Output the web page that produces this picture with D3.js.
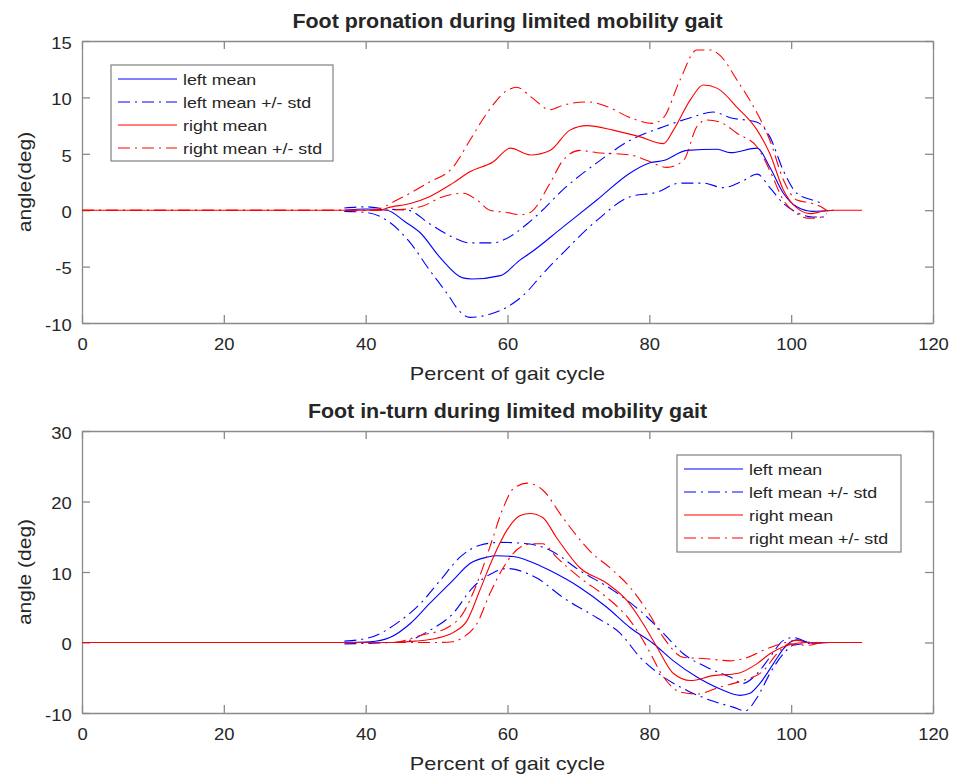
<!DOCTYPE html>
<html>
<head>
<meta charset="utf-8">
<script src="https://cdn.jsdelivr.net/npm/d3@7"></script>
<style>
    body { margin: 0; background: #fff; }
    svg { display: block; font-family: "Liberation Sans", Arial, Helvetica, sans-serif; }
</style>
</head>
<body>
<div class="visholder"></div>
<script>
// x ticks shared by both panels
const xTicks = [0, 20, 40, 60, 80, 100, 120];
const topYTicks = [-10, -5, 0, 5, 10, 15];
const botYTicks = [-10, 0, 10, 20, 30];
const legendLabels = ["left mean", "left mean +/- std", "right mean", "right mean +/- std"];

// top panel: foot pronation, [percent of gait cycle, angle]
const proLeftMean = [[37,0],[40,0.1],[43,0],[45.5,-1],[47.7,-2.0],[50.5,-4.2],[53.7,-6.0],[55,-6.1],[59,-5.8],[61.8,-4.4],[63.2,-3.8],[67.8,-1.5],[72.6,0.9],[77.3,3.3],[80.1,4.2],[82,4.4],[85.3,5.3],[89.6,5.4],[91.4,5.1],[95.2,5.5],[97,3.8],[98.9,1.5],[100.8,0.3],[103,-0.1],[106,0]];
const proLeftUpper = [[37,0.2],[40,0.3],[43,0.1],[46,0],[49,-1.2],[52.3,-2.4],[54.7,-2.9],[58,-2.9],[59.9,-2.5],[62.8,-1.2],[64.6,-0.2],[67.8,1.8],[72.6,4.2],[77.3,6.2],[82,7.4],[85.8,8.2],[89,8.7],[91.4,8.2],[95.2,7.8],[97,6.5],[98.9,3.5],[100.8,1.5],[103,0.9],[104.5,0.6]];
const proLeftLower = [[37,-0.1],[40,-0.2],[43,-0.9],[46.3,-2.9],[49,-5.3],[51.5,-7.4],[53.3,-9.0],[54.7,-9.5],[57.1,-9.3],[59.9,-8.6],[62.8,-7.2],[64.6,-5.9],[67.8,-3.8],[72.6,-0.9],[77.3,1.2],[81.1,1.6],[84.3,2.4],[87.6,2.4],[90.4,2.0],[93.2,2.6],[95.2,3.2],[97,2.0],[98.9,0.6],[100.8,-0.2],[103,-0.6],[105,-0.6]];
const proRightMean = [[0,0],[42,0],[43,0.2],[46.3,0.6],[49,1.2],[52.3,2.4],[54.7,3.4],[58,4.3],[60.4,5.5],[63.2,4.9],[66,5.3],[68.8,7.1],[71.2,7.5],[74.9,7.1],[78.7,6.5],[82,5.9],[83.4,7.1],[85.8,9.8],[87.6,11.1],[89.6,10.8],[92.4,9.1],[95.2,7.1],[97,5.0],[98.9,1.8],[100.8,0.2],[102.7,-0.3],[104.5,-0.1],[106,0],[110,0]];
const proRightUpper = [[0,0],[41,0],[44.4,0.9],[49,2.5],[52.3,3.8],[54.7,6.2],[57.1,8.6],[59.9,10.6],[61.3,10.9],[63.4,10.0],[66,8.9],[67.8,9.3],[71.2,9.6],[74,9.2],[77.3,8.2],[80.5,7.7],[82,8.2],[84.3,11.5],[86.7,14.2],[88.6,14.2],[90,13.7],[92.4,11.5],[95.2,8.6],[97,6.2],[98.9,2.7],[100.8,0.9],[103,0.6],[104.5,0.2],[105,0]];
const proRightLower = [[0,0],[43,0],[47.7,0.3],[50.9,1.2],[53.7,1.5],[55.7,0.9],[57.5,0],[59.9,-0.2],[61.8,-0.4],[63.2,-0.2],[66,2.4],[67.8,4.4],[70.2,5.3],[72.6,5.1],[77.3,4.9],[79.7,4.4],[82.5,3.8],[84.8,4.4],[86.7,7.4],[88.1,8.0],[90,7.8],[92.4,6.8],[95.2,5.6],[97,3.5],[98.9,0.9],[100.8,-0.3],[102.2,-0.7],[103.7,-0.7],[105,-0.3]];

// bottom panel: foot in-turn
const turnLeftMean = [[37,0],[40.6,0.1],[43.4,0.7],[46.3,2.7],[49,5.5],[52.3,8.8],[54.7,11.2],[57.1,12.1],[58.5,12.3],[60.8,12.2],[63.2,11.5],[66,10.2],[70.2,7.8],[74,5.0],[77.3,2.1],[80.5,-0.1],[83.4,-2.6],[86.7,-4.9],[90,-6.6],[92.8,-7.5],[94.2,-7.2],[95.6,-5.8],[97.5,-3.0],[98.9,-0.9],[99.8,0],[100.8,0.4],[103,-0.1],[105.5,0]];
const turnLeftUpper = [[37,0.2],[40.6,0.7],[44.9,3.1],[47.7,5.5],[50.5,8.8],[53.3,12.1],[56.1,13.8],[59,14.2],[62.8,14.0],[66,13.1],[70.2,10.2],[74.9,7.4],[78.7,4.5],[82,1.3],[84.8,-1.6],[88.1,-3.5],[91.4,-4.9],[93.2,-5.8],[95.2,-4.4],[97,-2.1],[98.9,0.3],[100.3,0.7],[102.7,0],[105,0]];
const turnLeftLower = [[37,-0.2],[41,-0.1],[45.3,0.1],[49,1.7],[52.3,4.1],[55.1,7.8],[58,9.9],[59.9,10.5],[62.8,9.8],[64.2,9.1],[67.8,6.4],[72.6,3.5],[75.9,1.3],[78.7,-2.1],[82,-4.9],[85.3,-6.8],[88.6,-8.2],[91.9,-9.2],[93.5,-9.7],[95.2,-7.8],[97,-4.4],[98.9,-1.6],[100.3,-0.4],[102.7,-0.1],[105,0]];
const turnRightMean = [[0,0],[44,0],[47,0.2],[50,0.6],[52.3,1.4],[54.3,3.1],[56.1,7.4],[58,12.1],[59.9,15.9],[61.8,18.0],[63.2,18.3],[65,17.7],[66.9,14.9],[70.2,10.6],[74,8.4],[76.8,6.0],[79.1,2.7],[81.1,-0.7],[83.4,-4.4],[85.8,-5.4],[89,-4.7],[92.4,-4.4],[95.2,-3.0],[97,-1.6],[98.9,-0.6],[100.8,-0.1],[102,0],[110,0]];
const turnRightUpper = [[0,0],[44,0],[47.7,1.0],[51.5,2.1],[53.7,4.1],[55.7,8.4],[57.5,13.5],[59.4,19.1],[60.8,21.8],[62.8,22.6],[65,21.6],[67.8,17.7],[71.6,13.0],[74.9,10.2],[77.3,7.8],[79.7,4.5],[82,0.7],[84.8,-2.1],[88.1,-2.3],[91.4,-2.6],[93.9,-2.1],[96.1,-1.1],[98.5,-0.2],[100.8,0.3],[103,0],[105,0]];
const turnRightLower = [[0,0],[50,0],[52.3,0.1],[53.7,0.7],[55.7,2.7],[57.5,6.9],[59.4,10.6],[61.8,13.5],[63.6,14.0],[65,14.0],[66.9,12.1],[70.2,9.2],[74,6.4],[77.3,3.1],[79.7,-0.7],[82,-4.9],[84.3,-7.0],[86.7,-7.3],[90,-6.3],[93.2,-5.4],[96.1,-4.0],[98,-1.6],[99.8,-0.2],[102.2,-0.4],[104,-0.1],[105,0]];

let width = 958,
    height = 774;

const textColor = "#262626",
    axisColor = "#8a8a8a",
    dashDot = "12,5,2,5";

var svg = d3.select(".visholder")
    .append("svg")
    .attr("width", width)
    .attr("height", height);

svg.append("rect")
    .attr("width", width)
    .attr("height", height)
    .attr("fill", "#fff");

var x = d3.scaleLinear().domain([0, 120]).range([82, 933]);

// text helper, the reference glyphs are a bit wider than Liberation Sans
function addText(g, px, py, str, size, sx, anchor, weight, rot) {
    return g.append("text")
        .attr("transform", `translate(${px},${py})` + (rot ? ` rotate(${rot})` : "") + ` scale(${sx},1)`)
        .attr("text-anchor", anchor)
        .attr("font-size", size)
        .attr("font-weight", weight || "normal")
        .attr("fill", textColor)
        .text(str);
}

// plain hyphen minus like the reference, not the unicode minus
var plainFormat = function (d) { return String(d); };

function drawPanel(cfg) {
    var g = svg.append("g");
    var y = d3.scaleLinear().domain(cfg.yDomain).range([cfg.bottom, cfg.top]);

    var xAxis = d3.axisBottom(x).tickValues(xTicks).tickFormat(plainFormat)
        .tickSizeInner(-8).tickSizeOuter(0).tickPadding(16);
    var yAxis = d3.axisLeft(y).tickValues(cfg.yTicks).tickFormat(plainFormat)
        .tickSizeInner(-8).tickSizeOuter(0).tickPadding(9);

    g.append("g")
        .attr("transform", `translate(0,${cfg.bottom})`)
        .call(xAxis);
    g.append("g")
        .attr("transform", `translate(0,${cfg.top})`)
        .call(d3.axisTop(x).tickValues(xTicks).tickSizeInner(-8).tickSizeOuter(0).tickFormat(""));
    g.append("g")
        .attr("transform", `translate(82,0)`)
        .call(yAxis);
    g.append("g")
        .attr("transform", `translate(933,0)`)
        .call(d3.axisRight(y).tickValues(cfg.yTicks).tickSizeInner(-8).tickSizeOuter(0).tickFormat(""));

    g.selectAll(".domain, .tick line")
        .attr("stroke", axisColor)
        .attr("stroke-width", 1.3);
    g.selectAll(".tick text")
        .attr("fill", textColor)
        .attr("font-size", 16)
        .attr("font-family", null)
        .attr("transform", "scale(1.15,1)");
    g.selectAll(".tick text")
        .filter(function () { return this.getAttribute("x") !== null; })
        .attr("dy", "0.45em");

    var line = d3.line()
        .x(function (d) { return x(d[0]); })
        .y(function (d) { return y(d[1]); })
        .curve(d3.curveMonotoneX);

    g.selectAll(".series")
        .data(cfg.series)
        .enter()
        .append("path")
        .attr("class", "series")
        .attr("d", function (d) { return line(d.data); })
        .attr("fill", "none")
        .attr("stroke", function (d) { return d.color; })
        .attr("stroke-width", 1.1)
        .attr("stroke-dasharray", function (d) { return d.dash ? dashDot : null; });

    var cx = (82 + 933) / 2;
    addText(g, cx, cfg.top - 13, cfg.title, 20, 1.07, "middle", "bold");
    addText(g, cx, cfg.bottom + 57, "Percent of gait cycle", 17.5, 1.24, "middle");
    addText(g, 31, (cfg.top + cfg.bottom) / 2, cfg.ylabel, 17.5, 1.2, "middle", "normal", -90);

    // legend
    var lg = cfg.legend;
    var leg = g.append("g").attr("transform", `translate(${lg.x},${lg.y})`);
    leg.append("rect")
        .attr("width", lg.w)
        .attr("height", lg.h)
        .attr("fill", "#fff")
        .attr("stroke", axisColor)
        .attr("stroke-width", 1.3);
    var items = leg.selectAll(".legend-label")
        .data(cfg.series.filter(function (d, i) { return i % 3 < 2; }))
        .enter()
        .append("g")
        .attr("class", "legend-label")
        .attr("transform", function (d, i) { return `translate(0,${lg.row0 + i * 23})`; });
    items.append("line")
        .attr("x1", 7)
        .attr("x2", 66)
        .attr("stroke", function (d) { return d.color; })
        .attr("stroke-width", 1.1)
        .attr("stroke-dasharray", function (d) { return d.dash ? dashDot : null; });
    items.each(function (d, i) {
        addText(d3.select(this), 72, 5.5, legendLabels[i], 15.5, 1.15, "start");
    });
}

function makeSeries(lm, lu, ll, rm, ru, rl) {
    return [
        { data: lm, color: "#0000ff", dash: false },
        { data: lu, color: "#0000ff", dash: true },
        { data: ll, color: "#0000ff", dash: true },
        { data: rm, color: "#ff0000", dash: false },
        { data: ru, color: "#ff0000", dash: true },
        { data: rl, color: "#ff0000", dash: true }
    ];
}

drawPanel({
    top: 41,
    bottom: 323,
    yDomain: [-10, 15],
    yTicks: topYTicks,
    title: "Foot pronation during limited mobility gait",
    ylabel: "angle(deg)",
    series: makeSeries(proLeftMean, proLeftUpper, proLeftLower, proRightMean, proRightUpper, proRightLower),
    legend: { x: 111, y: 65, w: 222, h: 96, row0: 14 }
});

drawPanel({
    top: 431,
    bottom: 713,
    yDomain: [-10, 30],
    yTicks: botYTicks,
    title: "Foot in-turn during limited mobility gait",
    ylabel: "angle (deg)",
    series: makeSeries(turnLeftMean, turnLeftUpper, turnLeftLower, turnRightMean, turnRightUpper, turnRightLower),
    legend: { x: 677, y: 455, w: 224, h: 97, row0: 14 }
});
</script>
</body>
</html>
